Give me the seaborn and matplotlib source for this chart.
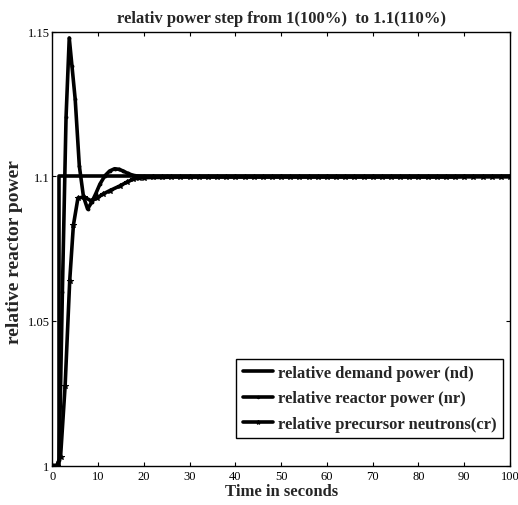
import matplotlib
matplotlib.use("Agg")
import matplotlib.pyplot as plt
import seaborn as sns
import pandas as pd
from matplotlib.lines import Line2D

# ---- data ----
nd_t = [0, 1.0, 1.5, 1.5, 100]
nd_y = [1.0, 1.0, 1.0, 1.1, 1.1]

nr_t = [0, 1.0, 1.5, 2.2, 3.0, 3.7, 4.3, 5.0, 5.9, 6.8, 7.7, 8.6, 9.5, 10.4, 11.5,
        12.5, 13.6, 14.6, 15.5, 16.5, 17.5, 18.5, 20, 22, 25, 30, 40, 50, 60, 70, 80, 90, 100]
nr_y = [1.0, 1.0, 1.002, 1.06, 1.1204, 1.1478, 1.138, 1.1266, 1.1036, 1.093, 1.0887, 1.091,
        1.094, 1.0973, 1.1002, 1.1018, 1.1026, 1.1024, 1.1018, 1.1010, 1.1004, 1.1001, 1.1,
        1.1, 1.1, 1.1, 1.1, 1.1, 1.1, 1.1, 1.1, 1.1, 1.1]

cr_t = [0, 1.0, 1.8, 2.8, 3.8, 4.6, 5.6, 7.0, 8.5, 9.8, 11.0, 12.5, 14.8, 16.3, 17.7, 19,
        20, 22, 24, 26, 28, 30, 32, 34, 36, 38, 40, 42, 44, 46, 48, 50, 52, 54, 56, 58, 60,
        62, 64, 66, 68, 70, 72, 74, 76, 78, 80, 82, 84, 86, 88, 90, 92, 94, 96, 98, 100]
cr_y = [1.0, 1.0, 1.003, 1.0276, 1.0639, 1.083, 1.0925, 1.0928, 1.0915, 1.0925, 1.0938,
        1.0950, 1.0967, 1.0980, 1.0990, 1.0994,
        1.0995, 1.0996, 1.0996, 1.0997, 1.0997, 1.0997, 1.0997, 1.0997, 1.0997, 1.0997,
        1.0997, 1.0997, 1.0997, 1.0997, 1.0997, 1.0997, 1.0997, 1.0997, 1.0997, 1.0997,
        1.0997, 1.0997, 1.0997, 1.0997, 1.0997, 1.0997, 1.0997, 1.0997, 1.0997, 1.0997,
        1.0997, 1.0997, 1.0997, 1.0997, 1.0997, 1.0998, 1.0998, 1.0998, 1.0998, 1.0998, 1.0998]

labels = ["relative demand power (nd)", "relative reactor power (nr)",
          "relative precursor neutrons(cr)"]
x_ticks = [0, 10, 20, 30, 40, 50, 60, 70, 80, 90, 100]
y_ticks = [1.0, 1.05, 1.1, 1.15]
y_tick_labels = ["1", "1.05", "1.1", "1.15"]

# ---- styling ----
sns.set_style("ticks")
plt.rcParams['font.family'] = ['Liberation Serif', 'DejaVu Serif']
plt.rcParams['xtick.direction'] = 'in'
plt.rcParams['ytick.direction'] = 'in'

fig = plt.figure(figsize=(5.18, 5.06), dpi=100)
ax = fig.add_axes([0.101, 0.078, 0.8835, 0.8575])

df_nd = pd.DataFrame({"t": nd_t, "v": nd_y})
df_nr = pd.DataFrame({"t": nr_t, "v": nr_y})
df_cr = pd.DataFrame({"t": cr_t, "v": cr_y})

sns.lineplot(data=df_nd, x="t", y="v", ax=ax, color="black", linewidth=2.6,
             estimator=None, sort=False)
sns.lineplot(data=df_nr, x="t", y="v", ax=ax, color="black", linewidth=2.6,
             marker=".", markersize=4, markeredgecolor="black",
             estimator=None, sort=False)
sns.lineplot(data=df_cr, x="t", y="v", ax=ax, color="black", linewidth=2.6,
             marker="*", markersize=4, markeredgecolor="black",
             estimator=None, sort=False)

ax.set_xlim(0, 100)
ax.set_ylim(1.0, 1.15)
ax.set_xticks(x_ticks)
ax.set_xticklabels([str(v) for v in x_ticks], fontsize=9)
ax.set_yticks(y_ticks)
ax.set_yticklabels(y_tick_labels, fontsize=9)
ax.tick_params(axis="x", pad=3)
ax.tick_params(axis="y", pad=2)
ax.tick_params(top=True, right=True, length=3, width=0.8, colors="black")
for s in ax.spines.values():
    s.set_visible(True)
    s.set_linewidth(1.0)
    s.set_color("black")

ax.set_xlabel("Time in seconds", fontsize=12, fontweight="bold", labelpad=1)
ax.set_ylabel("relative reactor power", fontsize=14, fontweight="bold")
ax.yaxis.set_label_coords(-0.064, 0.494)
ax.set_title("relativ power step from 1(100%)  to 1.1(110%)", fontsize=12,
             fontweight="bold", pad=7)

handles = [Line2D([], [], color="black", lw=2.6),
           Line2D([], [], color="black", lw=2.6, marker=".", markersize=3),
           Line2D([], [], color="black", lw=2.6, marker="*", markersize=3)]
leg = ax.legend(handles, labels, loc="lower right", bbox_to_anchor=(0.985, 0.063),
                borderaxespad=0, fancybox=False, framealpha=1, edgecolor="black",
                prop={"family": "Liberation Serif", "weight": "bold", "size": 12},
                handlelength=1.8, handletextpad=0.3, labelspacing=0.55,
                borderpad=0.4)
leg.get_frame().set_linewidth(1.0)

fig.savefig("out.png", dpi=100)
